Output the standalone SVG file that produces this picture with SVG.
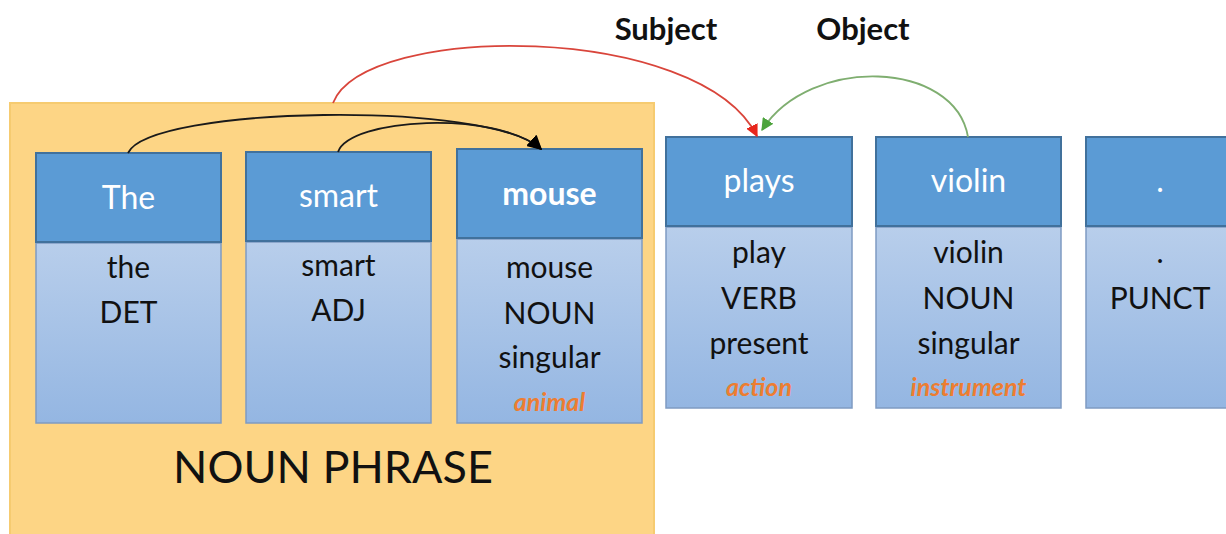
<svg xmlns="http://www.w3.org/2000/svg" width="1226" height="534" viewBox="0 0 1226 534">
  <defs>
    <linearGradient id="bodyFill" x1="0" y1="0" x2="0" y2="1">
      <stop offset="0" stop-color="#B8CEEB"/>
      <stop offset="1" stop-color="#94B6E2"/>
    </linearGradient>
    <marker id="arrowBlack" viewBox="0 0 10 10" refX="9" refY="5" markerWidth="8" markerHeight="8" orient="auto" markerUnits="strokeWidth">
      <path d="M0,0 L10,5 L0,10 Z" fill="#000"/>
    </marker>
    <marker id="arrowRed" viewBox="0 0 10 10" refX="9" refY="5" markerWidth="7" markerHeight="7" orient="auto" markerUnits="strokeWidth">
      <path d="M0,0 L10,5 L0,10 Z" fill="#E8261C"/>
    </marker>
    <marker id="arrowGreen" viewBox="0 0 10 10" refX="9" refY="5" markerWidth="7" markerHeight="7" orient="auto" markerUnits="strokeWidth">
      <path d="M0,0 L10,5 L0,10 Z" fill="#4CA33B"/>
    </marker>
  </defs>
  <style>
    .phrase { fill: #FDD585; stroke: #F6CB70; stroke-width: 2; }
    .head { fill: #5B9BD5; stroke: #41719C; stroke-width: 2; }
    .body { fill: url(#bodyFill); stroke: #7F9BC2; stroke-width: 1.5; }
    text { font-family: Lato, "Liberation Sans", sans-serif; text-anchor: middle; }
    .word { fill: #FFFFFF; font-size: 32px; }
    .word.bold { font-weight: bold; }
    .feat { fill: #111111; font-size: 30px; }
    .sem { fill: #ED7D31; font-size: 25px; font-weight: bold; font-style: italic; }
    .rel { fill: #111111; font-size: 31px; font-weight: bold; }
    .big { fill: #111111; font-size: 45px; }
    .arc { fill: none; stroke-width: 1.8; }
  </style>

  <rect width="1226" height="534" fill="#FFFFFF"/>

  <!-- noun phrase container -->
  <g id="noun-phrase">
    <rect class="phrase" x="10" y="103" width="644" height="440"/>
    <text class="big" x="333" y="483">NOUN PHRASE</text>
  </g>

  <!-- tokens -->
  <g id="tok-the">
    <rect class="body" x="36" y="243" width="185" height="180"/>
    <rect class="head" x="36" y="153" width="185" height="89"/>
    <text class="word" x="128.5" y="209">The</text>
    <text class="feat" x="128.5" y="278">the</text>
    <text class="feat" x="128.5" y="323">DET</text>
  </g>

  <g id="tok-smart">
    <rect class="body" x="246" y="242" width="185" height="181"/>
    <rect class="head" x="246" y="152" width="185" height="89"/>
    <text class="word" x="338.5" y="207">smart</text>
    <text class="feat" x="338.5" y="276">smart</text>
    <text class="feat" x="338.5" y="321">ADJ</text>
  </g>

  <g id="tok-mouse">
    <rect class="body" x="457" y="239" width="185" height="184"/>
    <rect class="head" x="457" y="149" width="185" height="89"/>
    <text class="word bold" x="549.5" y="205">mouse</text>
    <text class="feat" x="549.5" y="278">mouse</text>
    <text class="feat" x="549.5" y="324">NOUN</text>
    <text class="feat" x="549.5" y="368">singular</text>
    <text class="sem" x="549.5" y="411">animal</text>
  </g>

  <g id="tok-plays">
    <rect class="body" x="666" y="227" width="186" height="181"/>
    <rect class="head" x="666" y="137" width="186" height="89"/>
    <text class="word" x="759" y="192">plays</text>
    <text class="feat" x="759" y="263">play</text>
    <text class="feat" x="759" y="309">VERB</text>
    <text class="feat" x="759" y="354">present</text>
    <text class="sem" x="759" y="396">action</text>
  </g>

  <g id="tok-violin">
    <rect class="body" x="876" y="227" width="185" height="181"/>
    <rect class="head" x="876" y="137" width="185" height="89"/>
    <text class="word" x="968.5" y="192">violin</text>
    <text class="feat" x="968.5" y="263">violin</text>
    <text class="feat" x="968.5" y="309">NOUN</text>
    <text class="feat" x="968.5" y="354">singular</text>
    <text class="sem" x="968.5" y="396">instrument</text>
  </g>

  <g id="tok-punct">
    <rect class="body" x="1086" y="227" width="185" height="181"/>
    <rect class="head" x="1086" y="137" width="185" height="89"/>
    <text class="word" x="1160" y="192">.</text>
    <text class="feat" x="1160" y="263">.</text>
    <text class="feat" x="1160" y="309">PUNCT</text>
  </g>

  <!-- relation labels -->
  <g id="labels">
    <text class="rel" x="666" y="40">Subject</text>
    <text class="rel" x="863" y="40">Object</text>
  </g>

  <!-- dependency arcs -->
  <g id="connectors">
    <path class="arc" stroke="#1A1A1A" d="M128,153 C150,106 490,100 541,149" marker-end="url(#arrowBlack)"/>
    <path class="arc" stroke="#1A1A1A" d="M338,152 C350,118 495,110 541,149" marker-end="url(#arrowBlack)"/>
    <path class="arc" stroke="#D9453B" d="M333,103 C365,22 700,22 757,136" marker-end="url(#arrowRed)"/>
    <path class="arc" stroke="#7FAE70" d="M968,137 C955,60 810,55 762,130" marker-end="url(#arrowGreen)"/>
  </g>
</svg>
